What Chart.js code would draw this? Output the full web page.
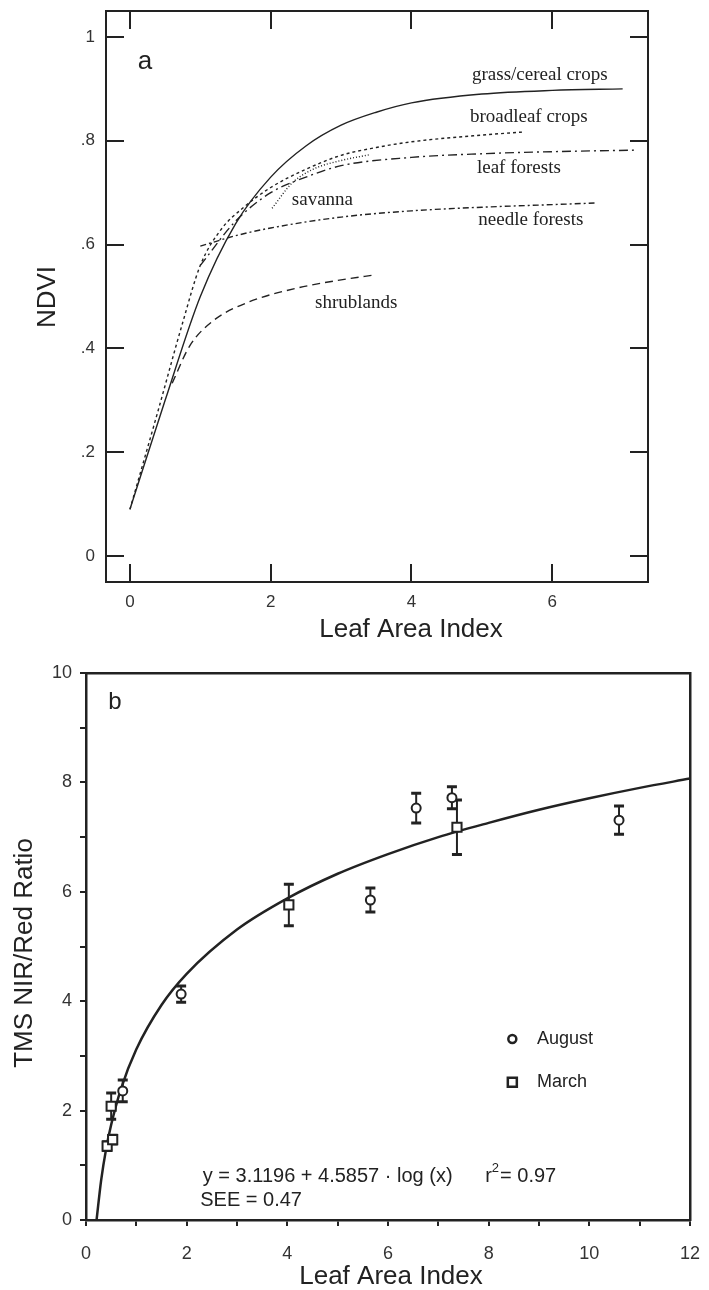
<!DOCTYPE html>
<html>
<head>
<meta charset="utf-8">
<script src="https://cdn.jsdelivr.net/npm/chart.js@4.4.1/dist/chart.umd.min.js"></script>
<style>
  html, body { margin: 0; padding: 0; background: #fff; }
  #wrap { position: relative; width: 709px; height: 1290px; }
  canvas { position: absolute; left: 0; }
  #chartA { top: 0; }
  #chartB { top: 645px; }
</style>
</head>
<body>
<div id="wrap">
  <canvas id="chartA" width="709" height="645"></canvas>
  <canvas id="chartB" width="709" height="645"></canvas>
</div>
<script>
// ---------- panel a: NDVI vs LAI for six biomes ----------
const grassLai   = [0, 0.5, 1.0, 1.5, 2.0, 2.5, 3.0, 3.5, 4.0, 5.0, 6.0, 7.0];
const grassNdvi  = [0.09, 0.30, 0.50, 0.64, 0.73, 0.79, 0.83, 0.855, 0.873, 0.89, 0.897, 0.90];
const broadLai   = [0, 0.4, 0.75, 1.0, 1.3, 1.6, 2.0, 2.5, 3.0, 3.5, 4.0, 5.0, 5.6];
const broadNdvi  = [0.09, 0.28, 0.45, 0.56, 0.63, 0.67, 0.71, 0.745, 0.772, 0.787, 0.798, 0.811, 0.817];
const leafLai    = [1.0, 1.5, 2.0, 2.5, 3.0, 4.0, 5.0, 6.0, 7.2];
const leafNdvi   = [0.56, 0.645, 0.70, 0.73, 0.752, 0.768, 0.775, 0.779, 0.782];
const savLai     = [2.02, 2.3, 2.6, 3.0, 3.4];
const savNdvi    = [0.67, 0.718, 0.745, 0.762, 0.773];
const needleLai  = [1.0, 1.5, 2.0, 3.0, 4.0, 5.0, 6.0, 6.6];
const needleNdvi = [0.597, 0.617, 0.632, 0.653, 0.665, 0.672, 0.677, 0.68];
const shrubLai   = [0.6, 0.85, 1.2, 1.7, 2.4, 3.0, 3.5];
const shrubNdvi  = [0.333, 0.405, 0.455, 0.49, 0.517, 0.532, 0.542];

const laiTicksA      = [0, 2, 4, 6];
const ndviTicks      = [0, 0.2, 0.4, 0.6, 0.8, 1.0];
const ndviTickLabels = ['0', '.2', '.4', '.6', '.8', '1'];

// ---------- panel b: TMS NIR/Red ratio vs LAI ----------
const augLai     = [0.73, 1.89, 5.65, 6.56, 7.27, 10.59];
const augRatio   = [2.36, 4.13, 5.85, 7.53, 7.72, 7.31];
const augErr     = [0.20, 0.15, 0.22, 0.27, 0.20, 0.26];
const marLai     = [0.42, 0.53, 0.50, 4.03, 7.37];
const marRatio   = [1.35, 1.47, 2.08, 5.76, 7.18];
const marErr     = [0.08, 0.08, 0.24, 0.38, 0.50];
const fitLai     = [0.21, 0.3, 0.4, 0.5, 0.7, 1.0, 1.5, 2, 3, 4, 5, 6, 7, 8, 9, 10, 11, 12];
const fitRatio   = [0.0, 0.72, 1.3, 1.74, 2.41, 3.12, 3.93, 4.5, 5.31, 5.88, 6.33, 6.69, 7.0, 7.26, 7.5, 7.71, 7.9, 8.07];

const laiTicksB   = [0, 1, 2, 3, 4, 5, 6, 7, 8, 9, 10, 11, 12];
const laiLabelsB  = ['0', '', '2', '', '4', '', '6', '', '8', '', '10', '', '12'];
const ratioTicks  = [0, 1, 2, 3, 4, 5, 6, 7, 8, 9, 10];
const ratioLabels = ['0', '', '2', '', '4', '', '6', '', '8', '', '10'];

const INK = '#222';
const SANS = '"Liberation Sans", Arial, sans-serif';
const SERIF = '"Liberation Serif", "Times New Roman", serif';

const pts = (xs, ys) => xs.map((x, i) => ({ x: x, y: ys[i] }));

// fixed axis size, and no extra room reserved for overhanging labels
const fixSize = (w, h) => s => {
  if (w !== null) s.width = w;
  if (h !== null) s.height = h;
  s.paddingTop = s.paddingBottom = s.paddingLeft = s.paddingRight = 0;
};

function drawText(ctx, str, x, y, font, align, rot) {
  ctx.save();
  ctx.font = font;
  ctx.fillStyle = INK;
  ctx.textAlign = align || 'left';
  ctx.textBaseline = 'middle';
  ctx.translate(x, y);
  if (rot) ctx.rotate(rot);
  ctx.fillText(str, 0, 0);
  ctx.restore();
}

// ---------------- panel a ----------------
const biomes = [
  { label: 'grass/cereal crops', xs: grassLai,  ys: grassNdvi,  dash: [] },
  { label: 'broadleaf crops',    xs: broadLai,  ys: broadNdvi,  dash: [3, 3] },
  { label: 'leaf forests',       xs: leafLai,   ys: leafNdvi,   dash: [9, 4, 2, 4] },
  { label: 'savanna',            xs: savLai,    ys: savNdvi,    dash: [1, 2] },
  { label: 'needle forests',     xs: needleLai, ys: needleNdvi, dash: [6, 3, 2, 3] },
  { label: 'shrublands',         xs: shrubLai,  ys: shrubNdvi,  dash: [8, 5] }
];

// where each curve's name sits (data units, left edge / middle)
const biomeLabelPos = [[4.86, 0.927], [4.83, 0.846], [4.93, 0.748], [2.30, 0.686], [4.95, 0.647], [2.63, 0.487]];

const annotA = {
  id: 'annotA',
  afterDraw(chart) {
    const ctx = chart.ctx, xs = chart.scales.x, ys = chart.scales.y;
    biomes.forEach((b, i) => {
      const p = biomeLabelPos[i];
      drawText(ctx, b.label, xs.getPixelForValue(p[0]), ys.getPixelForValue(p[1]), '19px ' + SERIF, 'left');
    });
    drawText(ctx, 'a', 145, 62, '26px ' + SANS, 'center');
    drawText(ctx, 'NDVI', 48, 297, '26px ' + SANS, 'center', -Math.PI / 2);
    drawText(ctx, 'Leaf Area Index', 411, 630, '26px ' + SANS, 'center');
  }
};

const frameGrid = { drawOnChartArea: false, tickLength: -18, color: INK, lineWidth: 2 };
const frameBorder = { color: INK, width: 2 };

new Chart(document.getElementById('chartA'), {
  type: 'scatter',
  data: {
    datasets: biomes.map(b => ({
      label: b.label,
      data: pts(b.xs, b.ys),
      showLine: true,
      borderColor: INK,
      borderWidth: 1.4,
      borderDash: b.dash,
      pointRadius: 0,
      cubicInterpolationMode: 'monotone'
    }))
  },
  options: {
    responsive: false,
    animation: false,
    layout: { padding: { left: 0, top: 11, right: 61, bottom: 0 } },
    plugins: { legend: { display: false }, tooltip: { enabled: false } },
    scales: {
      x: {
        type: 'linear', position: 'bottom', min: -0.34, max: 7.36,
        afterBuildTicks: s => { s.ticks = laiTicksA.map(v => ({ value: v })); },
        afterFit: fixSize(null, 63),
        ticks: { font: { family: SANS, size: 17 }, color: '#333', padding: 28, maxRotation: 0, callback: v => String(v) },
        grid: frameGrid, border: frameBorder
      },
      x2: {
        type: 'linear', position: 'top', min: -0.34, max: 7.36,
        afterBuildTicks: s => { s.ticks = laiTicksA.map(v => ({ value: v })); },
        afterFit: fixSize(null, 0),
        ticks: { display: false },
        grid: frameGrid, border: frameBorder
      },
      y: {
        type: 'linear', position: 'left', min: -0.05, max: 1.05,
        afterBuildTicks: s => { s.ticks = ndviTicks.map(v => ({ value: v })); },
        afterFit: fixSize(106, null),
        ticks: { font: { family: SANS, size: 17 }, color: '#333', padding: 29, callback: v => ndviTickLabels[ndviTicks.indexOf(v)] },
        grid: frameGrid, border: frameBorder
      },
      y2: {
        type: 'linear', position: 'right', min: -0.05, max: 1.05,
        afterBuildTicks: s => { s.ticks = ndviTicks.map(v => ({ value: v })); },
        afterFit: fixSize(0, null),
        ticks: { display: false },
        grid: frameGrid, border: frameBorder
      }
    }
  },
  plugins: [annotA]
});

// ---------------- panel b ----------------
const errorBars = {
  id: 'errorBars',
  beforeDatasetsDraw(chart) {
    const ctx = chart.ctx, xs = chart.scales.x, ys = chart.scales.y;
    const sets = [[augLai, augRatio, augErr], [marLai, marRatio, marErr]];
    ctx.save();
    ctx.strokeStyle = INK;
    sets.forEach(([lx, ly, le]) => {
      lx.forEach((x, i) => {
        const px = xs.getPixelForValue(x);
        const top = ys.getPixelForValue(ly[i] + le[i]);
        const bot = ys.getPixelForValue(ly[i] - le[i]);
        ctx.lineWidth = 2;
        ctx.beginPath();
        ctx.moveTo(px, top); ctx.lineTo(px, bot);
        ctx.stroke();
        ctx.lineWidth = 3;
        ctx.beginPath();
        ctx.moveTo(px - 5, top); ctx.lineTo(px + 5, top);
        ctx.moveTo(px - 5, bot); ctx.lineTo(px + 5, bot);
        ctx.stroke();
      });
    });
    ctx.restore();
  },
  afterDraw(chart) {
    const ctx = chart.ctx, xs = chart.scales.x, ys = chart.scales.y;
    const f20 = '20px ' + SANS;
    // equation and statistics
    drawText(ctx, 'y = 3.1196 + 4.5857 \u00B7 log (x)', xs.getPixelForValue(2.32), ys.getPixelForValue(0.79), f20, 'left');
    const rx = xs.getPixelForValue(7.93), ry = ys.getPixelForValue(0.79);
    ctx.save();
    ctx.font = f20;
    const rw = ctx.measureText('r').width;
    ctx.font = '13px ' + SANS;
    const sw = ctx.measureText('2').width;
    ctx.restore();
    drawText(ctx, 'r', rx, ry, f20, 'left');
    drawText(ctx, '2', rx + rw, ry - 8, '13px ' + SANS, 'left');
    drawText(ctx, '= 0.97', rx + rw + sw + 1, ry, f20, 'left');
    drawText(ctx, 'SEE = 0.47', xs.getPixelForValue(2.27), ys.getPixelForValue(0.35), f20, 'left');

    // legend
    const lx = xs.getPixelForValue(8.47);
    const aY = ys.getPixelForValue(3.31), mY = ys.getPixelForValue(2.52);
    ctx.save();
    ctx.strokeStyle = INK; ctx.fillStyle = '#fff'; ctx.lineWidth = 2.5;
    ctx.beginPath(); ctx.arc(lx, aY, 4, 0, Math.PI * 2); ctx.fill(); ctx.stroke();
    ctx.beginPath(); ctx.rect(lx - 4.5, mY - 4.5, 9, 9); ctx.fill(); ctx.stroke();
    ctx.restore();
    const tx = xs.getPixelForValue(8.96);
    drawText(ctx, 'August', tx, aY, '18px ' + SANS, 'left');
    drawText(ctx, 'March', tx, mY, '18px ' + SANS, 'left');

    drawText(ctx, 'b', 115, 57, '24px ' + SANS, 'center');
    drawText(ctx, 'TMS NIR/Red Ratio', 25, 308, '26px ' + SANS, 'center', -Math.PI / 2);
    drawText(ctx, 'Leaf Area Index', 391, 632, '26px ' + SANS, 'center');
  }
};

const outGrid = { drawOnChartArea: false, tickLength: 6, color: INK, lineWidth: 2 };
const boxBorder = { color: INK, width: 2.5 };

new Chart(document.getElementById('chartB'), {
  type: 'scatter',
  data: {
    datasets: [
      {
        label: 'fit',
        data: pts(fitLai, fitRatio),
        showLine: true,
        borderColor: INK,
        borderWidth: 2.5,
        pointRadius: 0,
        cubicInterpolationMode: 'monotone',
        order: 3
      },
      {
        label: 'August',
        data: pts(augLai, augRatio),
        pointStyle: 'circle',
        pointRadius: 4.5,
        borderWidth: 2,
        borderColor: INK,
        backgroundColor: '#fff',
        order: 1
      },
      {
        label: 'March',
        data: pts(marLai, marRatio),
        pointStyle: 'rect',
        pointRadius: 6.5,
        borderWidth: 2,
        borderColor: INK,
        backgroundColor: '#fff',
        order: 2
      }
    ]
  },
  options: {
    responsive: false,
    animation: false,
    layout: { padding: { left: 0, top: 28, right: 19, bottom: 0 } },
    plugins: { legend: { display: false }, tooltip: { enabled: false } },
    scales: {
      x: {
        type: 'linear', position: 'bottom', min: 0, max: 12,
        afterBuildTicks: s => { s.ticks = laiTicksB.map(v => ({ value: v })); },
        afterFit: fixSize(null, 70),
        ticks: { font: { family: SANS, size: 18 }, color: '#333', padding: 17, maxRotation: 0, autoSkip: false,
                 callback: v => laiLabelsB[laiTicksB.indexOf(v)] },
        grid: outGrid, border: boxBorder
      },
      x2: {
        type: 'linear', position: 'top', min: 0, max: 12,
        afterFit: fixSize(null, 0),
        ticks: { display: false },
        grid: { display: false }, border: boxBorder
      },
      y: {
        type: 'linear', position: 'left', min: 0, max: 10,
        afterBuildTicks: s => { s.ticks = ratioTicks.map(v => ({ value: v })); },
        afterFit: fixSize(86, null),
        ticks: { font: { family: SANS, size: 18 }, color: '#333', padding: 8, autoSkip: false,
                 callback: v => ratioLabels[ratioTicks.indexOf(v)] },
        grid: outGrid, border: boxBorder
      },
      y2: {
        type: 'linear', position: 'right', min: 0, max: 10,
        afterFit: fixSize(0, null),
        ticks: { display: false },
        grid: { display: false }, border: boxBorder
      }
    }
  },
  plugins: [errorBars]
});
</script>
</body>
</html>
